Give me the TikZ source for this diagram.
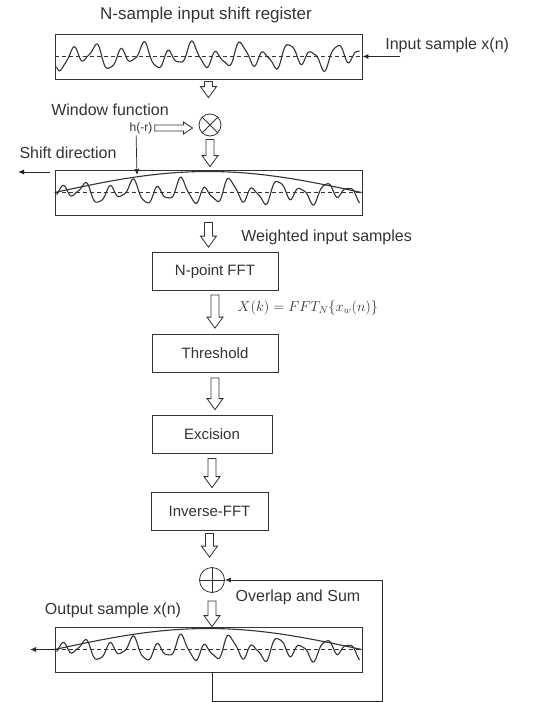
\documentclass[tikz,border=0pt]{standalone}
\usepackage{fontspec}
\setmainfont{Liberation Sans}
\usepackage{amsmath}
\usetikzlibrary{arrows.meta,positioning,calc}
\tikzset{
  >={Latex[length=6pt,width=5pt]},
  every picture/.append style={line width=0.8pt},
}
% outlined (hollow) block arrows between the stages
\newcommand{\hollowdown}[4]{%
  \draw[hollow] let \p1=(#1), \p2=(#2) in
    (\x1-4pt,\y1-#3pt) -- (\x1-4pt,\y2+#4pt+11pt) -- (\x1-8pt,\y2+#4pt+11pt)
    -- (\x1,\y2+#4pt) -- (\x1+8pt,\y2+#4pt+11pt) -- (\x1+4pt,\y2+#4pt+11pt)
    -- (\x1+4pt,\y1-#3pt) -- cycle;}
\newcommand{\hollowright}[4]{%
  \draw[hollow] let \p1=(#1), \p2=(#2) in
    (\x1+#3pt,\y1-3pt) -- (\x2-#4pt-9pt,\y1-3pt) -- (\x2-#4pt-9pt,\y1-6pt)
    -- (\x2-#4pt,\y1) -- (\x2-#4pt-9pt,\y1+6pt) -- (\x2-#4pt-9pt,\y1+3pt)
    -- (\x1+#3pt,\y1+3pt) -- cycle;}

\begin{document}
\begin{tikzpicture}[x=1pt, y=-1pt,
  declare function={sig(\t)=9*sin(15*\t)+5*sin(7*\t+40)+2*sin(31*\t);
                    win(\t)=sin((\t/307)*180);},
  reg/.style={draw=black!80, minimum width=307pt, minimum height=45pt, inner sep=0pt},
  blk/.style={draw=black!80, minimum height=38pt, inner sep=0pt,
              font=\fontsize{15}{18}\selectfont, text=black!80},
  lbl/.style={font=\fontsize{16}{19}\selectfont, text=black!80, inner sep=1pt},
  op/.style={draw=black!80, circle, minimum size=22pt, inner sep=0pt},
  hollow/.style={draw=black!80, fill=white, line width=0.8pt},
  sigline/.style={line width=1.1pt, black!80},
  centre/.style={dashed, dash pattern=on 4pt off 3pt, black!80},
  flow/.style={->, black!85, line width=0.9pt}
]
\useasboundingbox (0,0) rectangle (536,702);

% input shift register
\node[lbl, font=\fontsize{17}{20}\selectfont] (title) at (206,15) {N-sample input shift register};
\node[reg] (reg1) at (208.5,56.5) {};
\node[lbl, anchor=west] (inlbl) at (384,45) {Input sample x(n)};
\coordinate (inpt) at (400,56.5);
\draw[flow] (inpt) -- (reg1.east);
\draw[centre] (reg1.west) -- (reg1.east);
\begin{scope}[shift={(reg1.west)}]
  \draw[sigline] plot[domain=2:305, samples=300] (\x,{sig(\x)});
\end{scope}

% windowing
\node[lbl] (winlbl) at (110,110) {Window function};
\node[op] (mul) at (210,125) {};
\draw[black!80] (mul.north west) -- (mul.south east) (mul.north east) -- (mul.south west);
\node[lbl, font=\fontsize{12}{14}\selectfont] (hr) at (141,128) {h(-r)};
\hollowdown{reg1.south}{mul.north}{2}{16}
\hollowright{hr.east}{mul.west}{1}{6}

\node[lbl] (shiftlbl) at (68,153) {Shift direction};
\coordinate (shiftstart) at (50,172);
\coordinate (shiftend) at (18,172);
\draw[flow] (shiftstart) -- (shiftend);

\node[reg] (reg2) at (208.5,192.5) {};
\draw[centre] (reg2.west) -- (reg2.east);
\begin{scope}[shift={(reg2.west)}]
  \draw[sigline] plot[domain=0:307, samples=80, smooth] (\x,{-21*win(\x)});
  \draw[sigline] plot[domain=2:305, samples=300] (\x,{sig(\x+11)*(0.7+0.3*win(\x))});
\end{scope}
\coordinate (hrtip) at (137,175);
\draw[flow, line width=0.7pt] (hr.235) -- (hrtip);
\hollowdown{mul.south}{reg2.north}{3}{3}

% spectral processing chain
\node[lbl, anchor=west] (wlbl) at (240,237) {Weighted input samples};
\node[blk, minimum width=126pt] (fft) at (215,271.5) {N-point FFT};
\node[anchor=west, font=\fontsize{14}{17}\selectfont, text=black!80] (fmla) at (234,308) {$X(k)=FFT_N\{x_w(n)\}$};
\node[blk, minimum width=126pt] (thr) at (215,353.5) {Threshold};
\node[blk, minimum width=120pt] (exc) at (212,434) {Excision};
\node[blk, minimum width=117pt] (ifft) at (209.5,511) {Inverse-FFT};
\hollowdown{reg2.south}{fft.north}{7}{5}
\hollowdown{fft.south}{thr.north}{4}{6}
\hollowdown{thr.south}{exc.north}{5}{5}
\hollowdown{exc.south}{ifft.north}{5}{4}

% overlap and sum
\node[op, minimum size=25pt] (add) at (212,580) {};
\draw[black!80] (add.north) -- (add.south) (add.west) -- (add.east);
\hollowdown{ifft.south}{add.north}{3}{10}
\node[lbl] (ovlbl) at (298,597) {Overlap and Sum};
\node[lbl] (outlbl) at (113,610) {Output sample x(n)};

\node[reg] (reg3) at (208.5,649.5) {};
\draw[centre] (reg3.west) -- (reg3.east);
\begin{scope}[shift={(reg3.west)}]
  \draw[sigline] plot[domain=0:307, samples=80, smooth] (\x,{-21*win(\x)});
  \draw[sigline] plot[domain=2:305, samples=300] (\x,{sig(\x+11)*(0.7+0.3*win(\x))});
\end{scope}
\hollowdown{add.south}{reg3.north}{8}{0}
\coordinate (outend) at (30,649.5);
\draw[flow] (reg3.west) -- (outend);

% feedback path
\coordinate (fbcorner) at (382,701);
\draw[flow] (reg3.south -| add) |- (fbcorner) |- (add.east);
\end{tikzpicture}
\end{document}
